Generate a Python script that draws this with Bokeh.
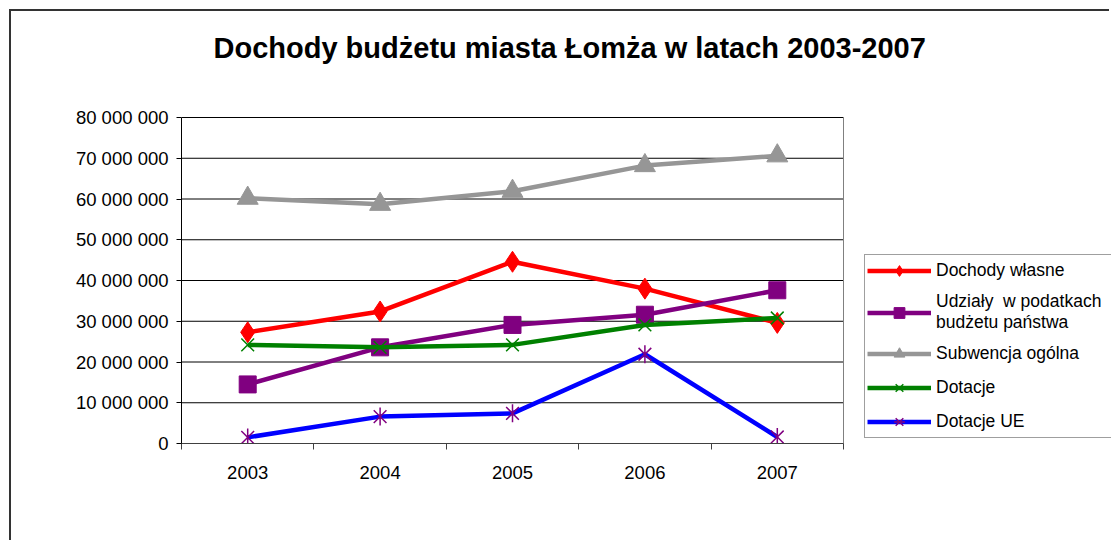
import math
from bokeh.plotting import figure
from bokeh.models import FixedTicker, Legend, LegendItem, Range1d, Label
from bokeh.embed import file_html
from bokeh.resources import INLINE

# ---- data ----
years = ["2003", "2004", "2005", "2006", "2007"]
dochody_wlasne = [27.3e6, 32.4e6, 44.6e6, 38.0e6, 29.6e6]
udzialy = [14.5e6, 23.6e6, 29.1e6, 31.6e6, 37.6e6]
subwencja = [60.2e6, 58.7e6, 61.9e6, 68.2e6, 70.6e6]
dotacje = [24.2e6, 23.6e6, 24.2e6, 29.1e6, 30.8e6]
dotacje_ue = [1.5e6, 6.6e6, 7.4e6, 21.9e6, 1.6e6]

series_names = ["Dochody własne", "Udziały  w podatkach\nbudżetu państwa", "Subwencja ogólna",
                "Dotacje", "Dotacje UE"]

y_ticks = [0, 10000000, 20000000, 30000000, 40000000, 50000000, 60000000, 70000000, 80000000]
y_tick_labels = ["0", "10 000 000", "20 000 000", "30 000 000", "40 000 000",
                 "50 000 000", "60 000 000", "70 000 000", "80 000 000"]
title_text = "Dochody budżetu miasta Łomża w latach 2003-2007"

FONT = "Liberation Sans"

# ---- layout (pixels) ----
FIG_W, FIG_H = 1100, 531          # canvas starts at page x=11, y=11 (offset + border)
BORDER_L, BORDER_B = 170, 99      # plot area left at 181, bottom at 443
PLOT_W, PLOT_H = 662, 326         # visible plot area (gridded) size
frame_w = FIG_W - BORDER_L
frame_h = FIG_H - BORDER_B

n = len(years)
xs = [i + 0.5 for i in range(n)]
bounds = [i for i in range(n + 1)]
x_end = n * frame_w / PLOT_W
y_end = y_ticks[-1] * frame_h / PLOT_H

p = figure(width=FIG_W, height=FIG_H, output_backend="svg", toolbar_location=None,
           x_range=Range1d(0, x_end), y_range=Range1d(0, y_end),
           min_border_left=BORDER_L, min_border_right=0, min_border_top=0,
           min_border_bottom=BORDER_B, title=None)

p.styles = {"position": "absolute", "left": "9px", "top": "9px",
            "border-left": "2px solid #333333", "border-top": "2px solid #333333"}

p.background_fill_color = "white"
p.border_fill_color = "white"
p.outline_line_color = None

# y axis
p.yaxis.bounds = (y_ticks[0], y_ticks[-1])
p.yaxis.ticker = FixedTicker(ticks=y_ticks, minor_ticks=[])
p.yaxis.major_label_overrides = {t: l for t, l in zip(y_ticks, y_tick_labels)}
p.yaxis.major_tick_in = 0
p.yaxis.major_tick_out = 5
p.yaxis.minor_tick_line_color = None
p.yaxis.major_label_standoff = 8
p.yaxis.major_label_text_font = FONT
p.yaxis.major_label_text_font_size = "18.5px"
p.yaxis.major_label_text_color = "black"
p.yaxis.axis_line_color = "black"
p.yaxis.major_tick_line_color = "black"

# x axis: labels centred, ticks on category boundaries
p.xaxis.bounds = (0, n)
p.xaxis.ticker = FixedTicker(ticks=xs, minor_ticks=bounds)
p.xaxis.major_label_overrides = {x: y for x, y in zip(xs, years)}
p.xaxis.major_tick_in = 0
p.xaxis.major_tick_out = 0
p.xaxis.minor_tick_in = 0
p.xaxis.minor_tick_out = 6
p.xaxis.minor_tick_line_color = "#404040"
p.xaxis.axis_line_color = "#404040"
p.xaxis.major_label_standoff = 16
p.xaxis.major_label_text_font = FONT
p.xaxis.major_label_text_font_size = "18.5px"
p.xaxis.major_label_text_color = "black"

p.xgrid.visible = False
p.ygrid.visible = False

# horizontal gridlines limited to the plot area, and its right border
p.segment(x0=[0] * len(y_ticks), x1=[n] * len(y_ticks), y0=y_ticks, y1=y_ticks,
          line_color="black", line_width=1)
p.segment(x0=[n], x1=[n], y0=[y_ticks[0]], y1=[y_ticks[-1]], line_color="#808080", line_width=1)

styles = [
    dict(color="#FF0000", markers=[("diamond", 0)], size=21, mfill="#FF0000", mline="#FF0000", mlw=1),
    dict(color="#800080", markers=[("square", 0)], size=17, mfill="#800080", mline="#800080", mlw=1),
    dict(color="#969696", markers=[("triangle", 0)], size=21, mfill="#969696", mline="#969696", mlw=1),
    dict(color="#008000", markers=[("x", 0)], size=18, mfill=None, mline="#008000", mlw=1.5),
    dict(color="#0000FF", markers=[("x", 0), ("dash", math.pi / 2)], size=18, mfill=None,
         mline="#800080", mlw=1.5),
]
all_series = [dochody_wlasne, udzialy, subwencja, dotacje, dotacje_ue]

items = []
for name, vals, st in zip(series_names, all_series, styles):
    rs = [p.line(xs, vals, line_color=st["color"], line_width=4.5)]
    for mk, ang in st["markers"]:
        rs.append(p.scatter(xs, vals, marker=mk, angle=ang, size=st["size"],
                            fill_color=st["mfill"], line_color=st["mline"], line_width=st["mlw"]))
    items.append(LegendItem(label=name, renderers=rs))

legend = Legend(items=items, location=(683, 5), orientation="vertical",
                label_text_font=FONT, label_text_font_size="17.5px", label_text_color="black",
                label_text_line_height=1.15,
                glyph_height=27, glyph_width=64, label_height=26, label_width=200,
                label_standoff=5, spacing=7, padding=2, margin=0,
                border_line_color="#404040", border_line_width=1,
                background_fill_color="white", background_fill_alpha=1)
p.add_layout(legend, "center")

title = Label(x=32, y=396, x_units="screen", y_units="screen", text=title_text,
              text_font=FONT, text_font_size="29px", text_font_style="bold",
              text_color="black", text_align="left", text_baseline="middle")
p.add_layout(title)

open("out.html", "w").write(file_html(p, INLINE))
